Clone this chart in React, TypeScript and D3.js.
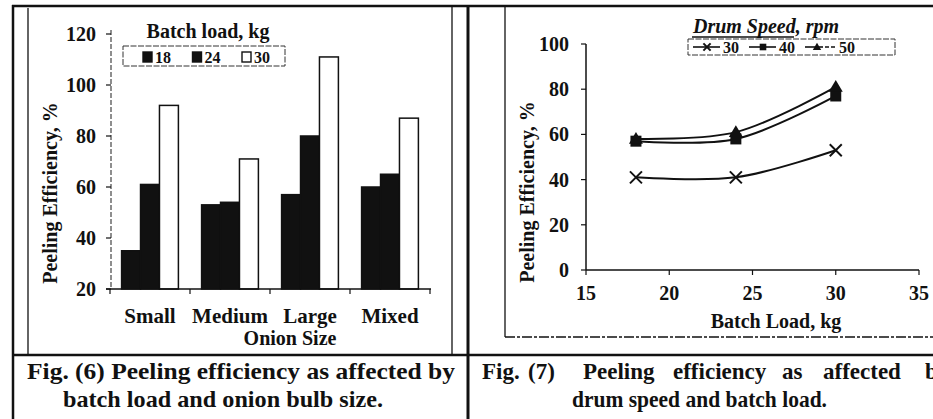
import * as d3 from 'd3'

// Fig. 6 — bars
const SIZES = ['Small', 'Medium', 'Large', 'Mixed']
const LOADS = ['18', '24', '30']
const EFF_18 = [35, 53, 57, 60]
const EFF_24 = [61, 54, 80, 65]
const EFF_30 = [92, 71, 111, 87]
const BAR_TICKS = [20, 40, 60, 80, 100, 120]

// Fig. 7 — lines
const BATCH_LOAD = [18, 24, 30]
const SPEEDS = ['30', '40', '50']
const RPM_30 = [41, 41, 53]
const RPM_40 = [57, 58, 77]
const RPM_50 = [58, 61, 81]
const LOAD_TICKS = [15, 20, 25, 30, 35]
const EFF_TICKS = [0, 20, 40, 60, 80, 100]

const FONT = "'Liberation Serif', 'Times New Roman', serif"
const INK = '#111'

function Marker({ kind, cx, cy, s = 1 }: { kind: string; cx: number; cy: number; s?: number }) {
  if (kind === 'x') {
    const r = 6 * s
    return (
      <g stroke={INK} strokeWidth={2}>
        <line x1={cx - r} y1={cy - r} x2={cx + r} y2={cy + r} />
        <line x1={cx - r} y1={cy + r} x2={cx + r} y2={cy - r} />
      </g>
    )
  }
  if (kind === 'square') {
    const r = 5.5 * s
    return <rect x={cx - r} y={cy - r} width={r * 2} height={r * 2} fill={INK} />
  }
  const r = 7 * s
  return <path d={`M${cx},${cy - r} L${cx + r},${cy + r * 0.7} L${cx - r},${cy + r * 0.7} Z`} fill={INK} />
}

function BarChart() {
  const x0 = d3.scaleBand().domain(SIZES).range([110, 430]).paddingInner(0.29).paddingOuter(0.145)
  const x1 = d3.scaleBand().domain(LOADS).range([0, x0.bandwidth()])
  const y = d3.scaleLinear().domain([20, 120]).range([289, 34])
  const series = [EFF_18, EFF_24, EFF_30]
  const fills = [INK, INK, '#fff']
  const bounds = [110, ...SIZES.map((s) => (x0(s) as number) + x0.bandwidth() + (x0.step() - x0.bandwidth()) / 2)]

  return (
    <g>
      {/* y axis */}
      <line x1={111} x2={111} y1={y(120) - 4} y2={y(20)} stroke="#444" strokeWidth={1.2} strokeDasharray="5,2" />
      {BAR_TICKS.map((t) => (
        <g key={t}>
          <line x1={106} x2={111} y1={y(t)} y2={y(t)} stroke={INK} strokeWidth={1.2} />
          <text x={96} y={y(t)} dy="0.35em" textAnchor="end" fontSize={20} fontWeight="bold">{t}</text>
        </g>
      ))}
      {/* bars */}
      {SIZES.map((s, i) => (
        <g key={s}>
          {LOADS.map((l, j) => (
            <rect key={l}
              x={(x0(s) as number) + (x1(l) as number)}
              y={y(series[j][i])}
              width={x1.bandwidth()}
              height={y(20) - y(series[j][i])}
              fill={fills[j]} stroke={INK} strokeWidth={1.5} />
          ))}
        </g>
      ))}
      {/* x axis */}
      <line x1={106} x2={431} y1={y(20)} y2={y(20)} stroke={INK} strokeWidth={1.5} />
      {bounds.map((b, i) => (
        <line key={i} x1={b} x2={b} y1={y(20)} y2={y(20) + 5} stroke={INK} strokeWidth={1.2} />
      ))}
      {SIZES.map((s) => (
        <text key={s} x={(x0(s) as number) + x0.bandwidth() / 2} y={323} textAnchor="middle" fontSize={21} fontWeight="bold">{s}</text>
      ))}
      <text x={290} y={345} textAnchor="middle" fontSize={20} fontWeight="bold">Onion Size</text>
      <text transform="translate(57,193) rotate(-90)" textAnchor="middle" fontSize={20} fontWeight="bold">Peeling Efficiency, %</text>

      {/* legend */}
      <text x={208} y={38} textAnchor="middle" fontSize={20} fontWeight="bold">Batch load, kg</text>
      <rect x={123} y={46} width={162} height={20} fill="none" stroke="#333" strokeWidth={1} strokeDasharray="6,1.5" />
      {LOADS.map((l, j) => (
        <g key={l} transform={`translate(${143 + j * 49.5},0)`}>
          <rect x={0} y={52} width={9} height={10} fill={fills[j]} stroke={INK} strokeWidth={1.4} />
          <text x={12} y={62.5} fontSize={16} fontWeight="bold">{l}</text>
        </g>
      ))}
    </g>
  )
}

function LineChart() {
  const x = d3.scaleLinear().domain([15, 35]).range([586, 919])
  const y = d3.scaleLinear().domain([0, 100]).range([270, 44])
  const series = [RPM_30, RPM_40, RPM_50]
  const kinds = ['x', 'square', 'triangle']
  const line = d3
    .line<number>()
    .x((_, i) => x(BATCH_LOAD[i]))
    .y((d) => y(d))
    .curve(d3.curveCatmullRom.alpha(0.5))

  return (
    <g>
      {/* axes */}
      <line x1={586} x2={586} y1={y(100)} y2={y(0)} stroke={INK} strokeWidth={1.5} />
      {EFF_TICKS.map((t) => (
        <g key={t}>
          <line x1={581} x2={586} y1={y(t)} y2={y(t)} stroke={INK} strokeWidth={1.2} />
          <text x={569} y={y(t)} dy="0.35em" textAnchor="end" fontSize={20} fontWeight="bold">{t}</text>
        </g>
      ))}
      <line x1={586} x2={919} y1={y(0)} y2={y(0)} stroke={INK} strokeWidth={1.5} />
      {LOAD_TICKS.map((t) => (
        <g key={t}>
          <line x1={x(t)} x2={x(t)} y1={y(0)} y2={y(0) + 5} stroke={INK} strokeWidth={1.2} />
          <text x={x(t)} y={300} textAnchor="middle" fontSize={20} fontWeight="bold">{t}</text>
        </g>
      ))}
      <text x={776} y={328} textAnchor="middle" fontSize={20} fontWeight="bold">Batch Load, kg</text>
      <text transform="translate(534,192) rotate(-90)" textAnchor="middle" fontSize={20} fontWeight="bold">Peeling Efficiency, %</text>

      {/* series */}
      {series.map((vals, k) => (
        <g key={k}>
          <path d={line(vals) || ''} fill="none" stroke={INK} strokeWidth={2} strokeLinejoin="round" />
          {vals.map((v, i) => (
            <Marker key={i} kind={kinds[k]} cx={x(BATCH_LOAD[i])} cy={y(v)} />
          ))}
        </g>
      ))}

      {/* legend */}
      <text x={766} y={33} textAnchor="middle" fontSize={20} fontWeight="bold" fontStyle="italic">Drum Speed, rpm</text>
      <line x1={692} x2={794} y1={37} y2={37} stroke={INK} strokeWidth={1.3} />
      <rect x={688} y={39} width={207} height={16} fill="none" stroke="#333" strokeWidth={1} strokeDasharray="6,1.5" />
      {SPEEDS.map((s, k) => (
        <g key={s} transform={`translate(${693 + k * 56},47)`}>
          <line x1={0} x2={k === 2 ? 18 : 27} y1={0} y2={0} stroke={INK} strokeWidth={1.6} />
          {k === 2 && <line x1={20} x2={30} y1={0} y2={0} stroke={INK} strokeWidth={1.6} strokeDasharray="4,2" />}
          <Marker kind={kinds[k]} cx={k === 2 ? 12 : 14} cy={0} s={0.6} />
          <text x={k === 2 ? 34 : 30} y={5.5} fontSize={16} fontWeight="bold">{s}</text>
        </g>
      ))}
    </g>
  )
}

const RIGHT_CAPTION = [
  ['Fig.', 482],
  ['(7)', 528],
  ['Peeling', 583],
  ['efficiency', 673],
  ['as', 782],
  ['affected', 823],
  ['by', 925],
]

export default function App() {
  return (
    <svg width={933} height={419} fill={INK}
      style={{ position: 'absolute', left: 0, top: 0, display: 'block', background: '#fff', fontFamily: FONT }}>
      <rect width={933} height={419} fill="#fff" />
      {/* table and frames */}
      <g stroke={INK} fill="none">
        <line x1={12} x2={933} y1={6} y2={6} strokeWidth={2.5} />
        <line x1={13} x2={13} y1={5} y2={419} strokeWidth={2.5} />
        <line x1={28} x2={28} y1={8} y2={354} strokeWidth={1.3} />
        <line x1={452} x2={452} y1={6} y2={354} strokeWidth={1.3} />
        <line x1={468} x2={468} y1={5} y2={419} strokeWidth={3} />
        <line x1={505} x2={505} y1={6} y2={337} strokeWidth={1.3} />
        <line x1={505} x2={933} y1={337} y2={337} strokeWidth={1.3} strokeDasharray="10,2,3,2" />
        <line x1={13} x2={933} y1={355} y2={355} strokeWidth={2.5} />
      </g>
      <BarChart />
      <LineChart />
      {/* captions */}
      <text x={27} y={379} fontSize={23} fontWeight="bold" textLength={428} lengthAdjust="spacingAndGlyphs">
        Fig. (6) Peeling efficiency as affected by
      </text>
      <text x={63} y={407} fontSize={23} fontWeight="bold" textLength={320} lengthAdjust="spacingAndGlyphs">
        batch load and onion bulb size.
      </text>
      {RIGHT_CAPTION.map(([w, px]) => (
        <text key={w as string} x={px as number} y={379} fontSize={23} fontWeight="bold">{w}</text>
      ))}
      <text x={572} y={407} fontSize={23} fontWeight="bold" textLength={255} lengthAdjust="spacingAndGlyphs">
        drum speed and batch load.
      </text>
    </svg>
  )
}
